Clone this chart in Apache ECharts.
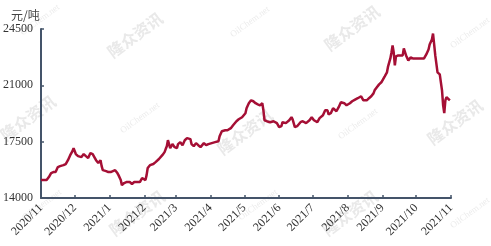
<!DOCTYPE html>
<html>
<head>
<meta charset="utf-8">
<script src="https://cdn.jsdelivr.net/npm/echarts@6/dist/echarts.min.js"></script>
<style>html,body{margin:0;padding:0;background:#fff}#c{width:491px;height:246px}</style>
</head>
<body>
<div id="c"></div>
<script>
var unitLabel = '元/吨';
var yTicks = [14000, 17500, 21000, 24500];
var monthLabels = ['2020/11','2020/12','2021/1','2021/2','2021/3','2021/4','2021/5','2021/6','2021/7','2021/8','2021/9','2021/10','2021/11'];
var dates = [
'2020-11-01','2020-11-04','2020-11-06','2020-11-08','2020-11-10','2020-11-12','2020-11-14','2020-11-16','2020-11-18','2020-11-21',
'2020-11-23','2020-11-25','2020-11-27','2020-11-29','2020-11-30','2020-12-01','2020-12-02','2020-12-04','2020-12-07','2020-12-08',
'2020-12-09','2020-12-11','2020-12-13','2020-12-15','2020-12-16','2020-12-17','2020-12-19','2020-12-20','2020-12-22','2020-12-24',
'2020-12-25','2020-12-26','2020-12-29','2020-12-31','2021-01-02','2021-01-04','2021-01-06','2021-01-08','2021-01-09','2021-01-10',
'2021-01-11','2021-01-12','2021-01-14','2021-01-16','2021-01-17','2021-01-19','2021-01-21','2021-01-23','2021-01-25','2021-01-26',
'2021-01-28','2021-01-30','2021-01-31','2021-02-02','2021-02-03','2021-02-04','2021-02-06','2021-02-09','2021-02-11','2021-02-14',
'2021-02-17','2021-02-19','2021-02-20','2021-02-21','2021-02-22','2021-02-23','2021-02-24','2021-02-26','2021-02-27','2021-02-28',
'2021-03-02','2021-03-03','2021-03-05','2021-03-07','2021-03-08','2021-03-09','2021-03-11','2021-03-14','2021-03-15','2021-03-17',
'2021-03-19','2021-03-21','2021-03-23','2021-03-24','2021-03-26','2021-03-28','2021-03-30','2021-03-31','2021-04-02','2021-04-05',
'2021-04-08','2021-04-09','2021-04-11','2021-04-14','2021-04-16','2021-04-19','2021-04-21','2021-04-24','2021-04-26','2021-04-29',
'2021-05-02','2021-05-03','2021-05-05','2021-05-07','2021-05-09','2021-05-11','2021-05-13','2021-05-15','2021-05-17','2021-05-18',
'2021-05-19','2021-05-21','2021-05-24','2021-05-27','2021-05-28','2021-05-30','2021-06-01','2021-06-03','2021-06-04','2021-06-07',
'2021-06-10','2021-06-12','2021-06-13','2021-06-15','2021-06-17','2021-06-20','2021-06-22','2021-06-25','2021-06-28','2021-06-30',
'2021-07-02','2021-07-05','2021-07-07','2021-07-10','2021-07-12','2021-07-14','2021-07-15','2021-07-17','2021-07-19','2021-07-22',
'2021-07-24','2021-07-26','2021-07-29','2021-07-31','2021-08-03','2021-08-05','2021-08-08','2021-08-10','2021-08-13','2021-08-15',
'2021-08-16','2021-08-18','2021-08-20','2021-08-22','2021-08-24','2021-08-25','2021-08-27','2021-08-29','2021-08-31','2021-09-01',
'2021-09-03','2021-09-05','2021-09-06','2021-09-08','2021-09-09','2021-09-10','2021-09-11','2021-09-12','2021-09-13','2021-09-15',
'2021-09-17','2021-09-19','2021-09-20','2021-09-21','2021-09-22','2021-09-24','2021-09-26','2021-09-28','2021-10-01','2021-10-04',
'2021-10-06','2021-10-08','2021-10-10','2021-10-12','2021-10-13','2021-10-15','2021-10-16','2021-10-17','2021-10-18','2021-10-20',
'2021-10-21','2021-10-22','2021-10-23','2021-10-24','2021-10-25','2021-10-26','2021-10-27','2021-10-28','2021-10-29','2021-10-31'
];
var prices = [
15115,15115,15115,15300,15550,15610,15610,15920,15980,16040,
16110,16350,16660,16910,17100,17040,16730,16600,16540,16480,
16730,16600,16480,16790,16910,16730,16480,16350,16170,16350,
15980,15730,15670,15610,15610,15670,15730,15550,15420,15420,
15115,14800,14930,14990,14930,14990,14870,14990,14990,14870,
14990,15240,15300,15115,15420,15860,16040,16110,16230,16420,
16660,16850,17040,17220,17590,17350,17100,17350,17410,17160,
17100,17350,17470,17280,17350,17590,17720,17660,17350,17220,
17410,17280,17160,17220,17410,17280,17350,17280,17410,17470,
17530,17840,18150,18210,18210,18340,18520,18770,18890,19020,
19270,19580,19890,20070,20010,19890,19820,19760,19890,19450,
18830,18770,18710,18770,18710,18650,18400,18460,18710,18650,
18830,19020,18890,18400,18460,18710,18770,18650,18830,19020,
18830,18710,18960,19140,19450,19450,19200,19270,19580,19390,
19640,19950,19890,19760,19890,20010,20130,20200,20320,20070,
19950,20070,20200,20320,20500,20690,20880,21060,21190,21310,
21560,21810,22180,22670,23040,23480,23040,22240,22800,22860,
22860,22860,23290,23170,22860,22550,22730,22670,22670,22670,
22670,22670,22920,23230,23540,23850,24220,23540,22860,21810,
21740,21680,21560,20690,19760,19270,20070,20260,20260,20070,19890
];

var wmCN = [[135,35],[352,28],[28,118],[245,132],[455,122],[137,213],[350,213]];
var wmEN = [[40,20],[250,22],[470,33],[140,118],[358,124],[258,205],[470,213],[42,205]];

// full daily category axis between first and last month label
var axisDays = [];
(function(){
  var d = new Date(Date.UTC(2020,10,1));
  var end = Date.UTC(2021,10,1);
  while (d.getTime() <= end) {
    var y = d.getUTCFullYear(), m = d.getUTCMonth()+1, dd = d.getUTCDate();
    axisDays.push(y + '-' + (m<10?'0':'') + m + '-' + (dd<10?'0':'') + dd);
    d = new Date(d.getTime() + 86400000);
  }
})();
function isMonthStart(idx, val){ return val.slice(8) === '01'; }
function monthLabel(val){
  var y = val.slice(0,4), m = parseInt(val.slice(5,7),10);
  var s = y + '/' + m;
  return monthLabels.indexOf(s) >= 0 ? s : '';
}

var graphics = [];
wmCN.forEach(function(p){
  graphics.push({type:'text', x:p[0], y:p[1], rotation:Math.PI/5, z:-10, silent:true,
    style:{text:'隆众资讯', fill:'#e9e9e9', font:'bold 16px "Noto Sans CJK SC"', align:'center', verticalAlign:'middle'}});
});
wmEN.forEach(function(p){
  graphics.push({type:'text', x:p[0], y:p[1], rotation:Math.PI/5, z:-10, silent:true,
    style:{text:'OilChem.net', fill:'#ececec', font:'9px "Liberation Serif"', align:'center', verticalAlign:'middle'}});
});

var chart = echarts.init(document.getElementById('c'), null, {renderer:'canvas'});
chart.setOption({
  animation:false,
  backgroundColor:'#fff',
  title:{text:unitLabel, left:6, top:4, textStyle:{fontSize:12, fontWeight:'normal', color:'#444', fontFamily:'"Noto Sans CJK SC"'}},
  graphic:graphics,
  grid:{left:41, right:40, top:29, bottom:48},
  xAxis:{
    type:'category', data:axisDays, boundaryGap:false,
    axisLine:{lineStyle:{color:'#44546A', width:2}},
    axisTick:{inside:true, length:3, interval:isMonthStart, lineStyle:{color:'#44546A', width:1.5}},
    axisLabel:{interval:isMonthStart, rotate:45, margin:8, fontSize:12, color:'#333', fontFamily:'"Liberation Serif"', formatter:monthLabel}
  },
  yAxis:{
    type:'value', min:yTicks[0], max:yTicks[yTicks.length-1], interval:yTicks[1]-yTicks[0],
    axisLine:{show:true, lineStyle:{color:'#44546A', width:2}},
    axisTick:{show:true, inside:true, length:3, lineStyle:{color:'#44546A', width:1.5}},
    splitLine:{show:false},
    axisLabel:{margin:8, fontSize:12, color:'#333', fontFamily:'"Liberation Serif"', formatter:function(v){return String(v);}}
  },
  series:[{
    type:'line', showSymbol:false, symbol:'none',
    data:dates.map(function(d,i){return [d, prices[i]];}),
    lineStyle:{color:'#A50F35', width:2.5}
  }]
});
</script>
</body>
</html>
